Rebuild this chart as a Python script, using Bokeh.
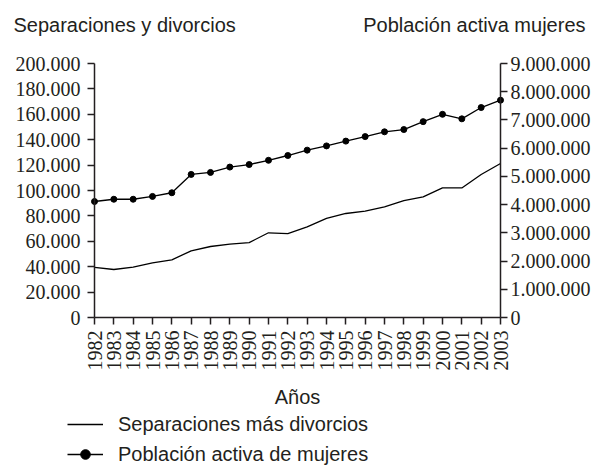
import math
from bokeh.plotting import figure
from bokeh.models import (Range1d, LinearAxis, FixedTicker, Legend, LegendItem, Label,
                          LabelSet, ColumnDataSource)
from bokeh.embed import file_html
from bokeh.resources import INLINE

years = list(range(1982, 2004))
separaciones = [39400, 37800, 39600, 43000, 45400, 52500, 55900, 57700, 59000, 66700, 66100,
                71400, 78000, 81900, 83700, 87100, 92100, 95000, 102000, 102000, 112600, 121300]
poblacion = [4110000, 4190000, 4190000, 4290000, 4420000, 5070000, 5140000, 5330000, 5420000,
             5570000, 5740000, 5930000, 6080000, 6250000, 6410000, 6580000, 6660000, 6940000,
             7200000, 7040000, 7440000, 7700000]
left_ticks = [0, 20000, 40000, 60000, 80000, 100000, 120000, 140000, 160000, 180000, 200000]
right_ticks = [0, 1000000, 2000000, 3000000, 4000000, 5000000, 6000000, 7000000, 8000000, 9000000]
year_labels = [str(y) for y in years]
left_title = "Separaciones y divorcios"
right_title = "Población activa mujeres"
x_title = "Años"
legend_labels = ["Separaciones más divorcios", "Población activa de mujeres"]

def fmt(v):
    return f"{v:,}".replace(",", ".")

FONT = "Liberation Sans"
TXT = "#231f20"
FS = "20px"

W, H = 605, 469
L, R, T, B = 94, 500, 63, 317      # plot box in page pixels
X0, X1 = years[0], years[-1]
LMAX, RMAX = 200000, 9000000
xs = (X1 - X0) / (R - L)            # years per pixel
below = (H - B) / (B - T)
above = T / (B - T)

# the drawing frame covers the whole canvas; axes sit at fixed places inside it
p = figure(width=W, height=H, output_backend="svg", toolbar_location=None,
           x_range=Range1d(X0 - L * xs, X1 + (W - R) * xs),
           y_range=Range1d(-LMAX * below, LMAX * (1 + above)),
           min_border=0, x_axis_type=None, y_axis_type=None)
p.outline_line_color = None
p.grid.visible = False
p.extra_y_ranges = {"pob": Range1d(-RMAX * below, RMAX * (1 + above))}

def style_axis(ax):
    ax.axis_line_color = TXT
    ax.axis_line_width = 1.5
    ax.major_tick_line_color = TXT
    ax.major_tick_line_width = 1.5
    ax.major_tick_in = 7
    ax.major_tick_out = 0
    ax.minor_tick_line_color = None
    ax.major_label_standoff = 0
    ax.major_label_orientation = math.pi / 2
    ax.major_label_text_font_size = "0px"

# left value axis (ticks point left)
yl = LinearAxis(ticker=FixedTicker(ticks=left_ticks), bounds=(0, LMAX), fixed_location=X0,
                major_label_overrides={t: "" for t in left_ticks})
style_axis(yl)
p.add_layout(yl, "right")

# right value axis (ticks point right)
yr = LinearAxis(y_range_name="pob", ticker=FixedTicker(ticks=right_ticks), bounds=(0, RMAX),
                fixed_location=X1, major_label_overrides={t: "" for t in right_ticks})
style_axis(yr)
p.add_layout(yr, "left")

# year axis on the zero line (ticks point down)
xa = LinearAxis(ticker=FixedTicker(ticks=years), bounds=(X0, X1), fixed_location=0,
                major_label_overrides={y: "" for y in years})
style_axis(xa)
p.add_layout(xa, "above")

# tick labels
lsrc = ColumnDataSource(dict(y=left_ticks, text=[fmt(t) for t in left_ticks]))
p.add_layout(LabelSet(source=lsrc, x=X0, y="y", text="text", x_offset=-14,
                      text_align="right", text_baseline="middle",
                      text_font=FONT, text_font_size=FS, text_color=TXT))
rsrc = ColumnDataSource(dict(y=right_ticks, text=[fmt(t) for t in right_ticks]))
p.add_layout(LabelSet(source=rsrc, x=X1, y="y", y_range_name="pob", text="text", x_offset=10,
                      text_align="left", text_baseline="middle",
                      text_font=FONT, text_font_size=FS, text_color=TXT))
ysrc = ColumnDataSource(dict(x=years, text=year_labels))
p.add_layout(LabelSet(source=ysrc, x="x", y=0, text="text", y_offset=-13,
                      angle=math.pi / 2, text_align="right", text_baseline="middle",
                      text_font=FONT, text_font_size=FS, text_color=TXT))

# axis titles
p.add_layout(Label(x=(X0 + X1) / 2, y=0, y_offset=-79, text=x_title, text_align="center",
                   text_baseline="alphabetic", text_font=FONT, text_font_size=FS,
                   text_color=TXT))
p.add_layout(Label(x=X0, y=LMAX, x_offset=-81, y_offset=39, text=left_title,
                   text_align="left", text_baseline="alphabetic", text_font=FONT,
                   text_font_size=FS, text_color=TXT))
p.add_layout(Label(x=X1, y=LMAX, x_offset=85, y_offset=39, text=right_title,
                   text_align="right", text_baseline="alphabetic", text_font=FONT,
                   text_font_size=FS, text_color=TXT))

# data
r1 = p.line(years, separaciones, line_color="black", line_width=1.3)
r2 = p.line(years, poblacion, y_range_name="pob", line_color="black", line_width=1.3)
r3 = p.scatter(years, poblacion, y_range_name="pob", size=6, fill_color="black", line_color="black")

legend = Legend(items=[LegendItem(label=legend_labels[0], renderers=[r1]),
                       LegendItem(label=legend_labels[1], renderers=[r2, r3])],
                location=(67, 3), orientation="vertical",
                padding=0, margin=0, spacing=6, glyph_width=36, glyph_height=24,
                label_height=24, label_standoff=15,
                label_text_font=FONT, label_text_font_size=FS, label_text_color=TXT,
                label_text_baseline="alphabetic",
                border_line_color=None, background_fill_alpha=0)
p.add_layout(legend, "center")

open("out.html", "w").write(file_html(p, INLINE))
